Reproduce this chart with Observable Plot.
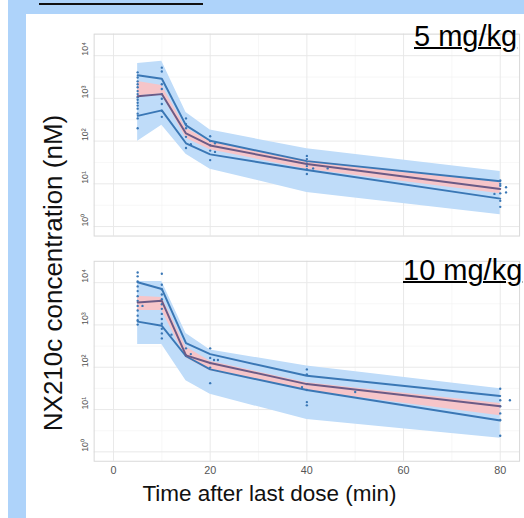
<!DOCTYPE html>
<html><head><meta charset="utf-8">
<script src="https://cdn.jsdelivr.net/npm/d3@7"></script>
<script src="https://cdn.jsdelivr.net/npm/@observablehq/plot@0.6"></script>
<style>
html,body{margin:0;padding:0;background:#fff;}
#root{position:relative;width:524px;height:518px;overflow:hidden;background:#fff;font-family:"Liberation Sans",Arial,sans-serif;}
.abs{position:absolute;white-space:nowrap;line-height:1;font-weight:normal;}
</style></head><body><div id="root"></div>
<script>
// Nominal sampling times (min)
const times = [5, 10, 15, 20, 40, 80];

// 5 mg/kg : simulated prediction band, median CI band, observed percentiles
const band5Lo = [100, 234, 49, 22, 6.3, 1.9];
const band5Hi = [6600, 7400, 470, 182, 66, 19.5];
const ci5Lo = [1150, 1260, 117, 63, 22, 5.9];
const ci5Hi = [2500, 2000, 200, 98, 35, 10.7];
const p95_5 = [3470, 2880, 234, 102, 34, 11.5];
const p50_5 = [1120, 1260, 151, 79, 29, 7.6];
const p05_5 = [390, 525, 89, 49, 21, 4.5];
const obs5T = [5,5,5,5,5,5,5,5,5,5,5,5,5,5,5, 10,10,10,10,10,10,10,10,10, 15,15,15,15,15,16, 20,20,20,20,20,21,21, 40,40,40,40,40,40,41.3,44.3, 80,80,80,80,80,80,81.2,81.2,78.8];
const obs5C = [4070,3090,2510,2140,1820,1480,1260,1070,930,790,680,575,440,340,200, 5250,4270,2140,1660,1260,980,740,510,370, 340,250,200,126,69,85, 130,100,80,60,36,89,56, 45,38,30,26,22,17,23,23, 12,10,9,6,4,2.9,8.3,6.3,5.8];

// 10 mg/kg
const band10Lo = [347, 347, 48, 23, 5.8, 2.1];
const band10Hi = [10700, 10700, 630, 257, 107, 31];
const ci10Lo = [2190, 2190, 166, 83, 28, 7.1];
const ci10Hi = [4790, 4470, 302, 138, 43, 14];
const p95_10 = [10200, 7100, 372, 204, 63, 21];
const p50_10 = [3390, 3720, 191, 126, 40, 12];
const p05_10 = [1200, 955, 182, 89, 29, 5.5];
const obs10T = [5,5,5,5,5,5,5,5,5,5,5,5,6, 10,10,10,10,10,10,10,10,10,10,10,10,10,12, 15,15,15,16, 20,20,20,20,20,20.8,21.6, 40,40,40,40,40,40,39,50, 80,80,80,80,80,80,82];
const obs10C = [17400,14100,10700,8130,6310,4790,3720,2820,2190,1660,1290,1020,2820, 16200,8910,6920,5250,4070,3090,2400,1820,1380,1070,810,630,480,590, 280,185,190,205, 280,166,126,98,42,148,148, 89,68,40,29,15,12.6,34,26, 31,16.6,12,8.1,5.7,2.4,16.6];

// Axis ticks
const xTicks = [0, 20, 40, 60, 80];
const xMinor = [10, 30, 50, 70];
const yTicks = [1, 10, 100, 1000, 10000];
const yLabels = ["10\u2070", "10\u00b9", "10\u00b2", "10\u00b3", "10\u2074"];
const yMinor = [3.16, 31.6, 316, 3162, 31623];
const doseLabels = ["5 mg/kg", "10 mg/kg"];

const BLUE = "#3a77b5", MED = "#6b5b86", BAND = "#bfdcf9", PINK = "#f6c5c9";

function panel(d, o) {
  const rows = times.map((t, i) => ({t, bLo: d.bLo[i], bHi: d.bHi[i], cLo: d.cLo[i], cHi: d.cHi[i], hi: d.hi[i], med: d.med[i], lo: d.lo[i]}));
  const obs = d.obsT.map((t, i) => ({t, c: d.obsC[i]}));
  return Plot.plot({
    width: 508, height: o.height,
    marginLeft: 69, marginRight: 5, marginTop: o.marginTop, marginBottom: o.marginBottom,
    style: {background: "transparent", fontFamily: "Liberation Sans, Arial, sans-serif", overflow: "visible"},
    x: {domain: [-4, 84], axis: null},
    y: {type: "log", domain: [0.6, 32000], axis: null},
    marks: [
      Plot.ruleX(xMinor, {stroke: "#f3f3f3", strokeWidth: 0.7}),
      Plot.ruleY(yMinor, {stroke: "#f3f3f3", strokeWidth: 0.7}),
      Plot.ruleX(xTicks, {stroke: "#e8e8e8", strokeWidth: 1}),
      Plot.ruleY(yTicks, {stroke: "#e8e8e8", strokeWidth: 1}),
      Plot.frame({stroke: "#d8d8d8"}),
      Plot.areaY(rows, {x: "t", y1: "bLo", y2: "bHi", fill: BAND}),
      Plot.areaY(rows, {x: "t", y1: "cLo", y2: "cHi", fill: PINK}),
      Plot.dot(obs, {x: "t", y: "c", r: 1.2, fill: BLUE, stroke: null}),
      Plot.line(rows, {x: "t", y: "hi", stroke: BLUE, strokeWidth: 2}),
      Plot.line(rows, {x: "t", y: "lo", stroke: BLUE, strokeWidth: 2}),
      Plot.line(rows, {x: "t", y: "med", stroke: MED, strokeWidth: 2}),
      Plot.text(yTicks, {y: v => v, text: (v, i) => yLabels[i], frameAnchor: "left", dx: -9, rotate: -90, fontSize: 9, fill: "#555"}),
      o.xAxis ? Plot.axisX(xTicks, {tickSize: 0, tickPadding: 5, fontSize: 11, fill: "#555", label: null}) : null
    ]
  });
}

const root = document.getElementById("root");
function addDiv(css, text) {
  const el = document.createElement("div");
  el.className = "abs";
  Object.assign(el.style, css);
  if (text != null) el.textContent = text;
  root.appendChild(el);
  return el;
}

// frame decorations
addDiv({left: "8px", top: "0px", width: "516px", height: "14px", background: "#aed3fa"});
addDiv({left: "8px", top: "0px", width: "18px", height: "518px", background: "#aed3fa"});
addDiv({left: "39px", top: "2.5px", width: "164px", height: "2px", background: "#111"});

const top1 = panel({bLo: band5Lo, bHi: band5Hi, cLo: ci5Lo, cHi: ci5Hi, hi: p95_5, med: p50_5, lo: p05_5, obsT: obs5T, obsC: obs5C},
  {height: 230, marginTop: 20, marginBottom: 4, xAxis: false});
const w1 = addDiv({left: "26px", top: "14px"});
w1.appendChild(top1);

const bot = panel({bLo: band10Lo, bHi: band10Hi, cLo: ci10Lo, cHi: ci10Hi, hi: p95_10, med: p50_10, lo: p05_10, obsT: obs10T, obsC: obs10C},
  {height: 235, marginTop: 11, marginBottom: 20, xAxis: true});
const w2 = addDiv({left: "26px", top: "250px"});
w2.appendChild(bot);

// panel titles
addDiv({left: "414px", top: "22px", fontSize: "29px", textDecoration: "underline", textDecorationThickness: "2px", color: "#000"}, doseLabels[0]);
addDiv({left: "403px", top: "256px", fontSize: "29px", textDecoration: "underline", textDecorationThickness: "2px", color: "#000"}, doseLabels[1]);

// axis titles
addDiv({left: "269.5px", top: "483px", fontSize: "22.5px", color: "#111", transform: "translateX(-50%)"}, "Time after last dose (min)");
addDiv({left: "53px", top: "272.5px", fontSize: "26px", color: "#111", transform: "translate(-50%,-50%) rotate(-90deg)"}, "NX210c concentration (nM)");
</script>
</body></html>
